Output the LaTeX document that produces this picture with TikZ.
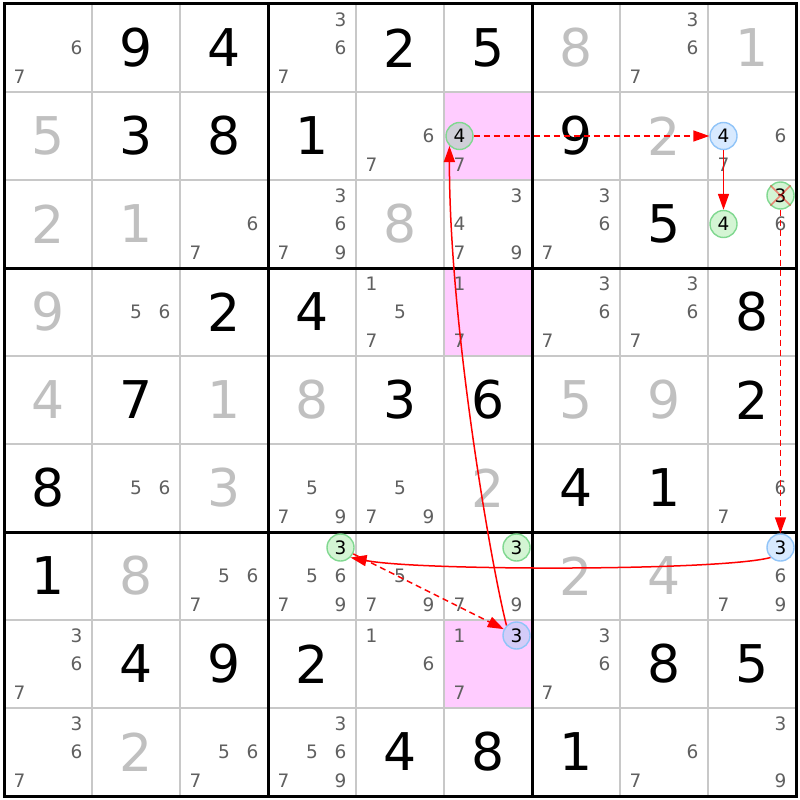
\documentclass[tikz,border=0pt]{standalone}
\usepackage{fontspec}
\setmainfont{DejaVu Sans}
\usetikzlibrary{arrows.meta}
\definecolor{solvedc}{HTML}{C0C0C0}
\definecolor{candc}{HTML}{606060}
\definecolor{thinc}{HTML}{C8C8C8}
\definecolor{pinkbg}{HTML}{FFCCFF}
\definecolor{gfill}{HTML}{D4F5D4}
\definecolor{gline}{HTML}{80D890}
\definecolor{bfill}{HTML}{D8EAFF}
\definecolor{bline}{HTML}{90C4F8}
\definecolor{gpfill}{HTML}{CFCFD8}
\definecolor{bpfill}{HTML}{D4CCF8}
\begin{document}
\begin{tikzpicture}[x=1pt,y=-1pt,
  given/.style={font=\fontsize{52}{52}\selectfont, text=black, inner sep=0pt},
  solvedd/.style={given, text=solvedc},
  cand/.style={font=\fontsize{18.5}{18.5}\selectfont, text=candc, inner sep=0pt},
  gcirc/.style={circle, draw=gline, fill=gfill, line width=1.4pt, minimum size=27pt, inner sep=0pt,
    font=\fontsize{18.5}{18.5}\selectfont, text=black},
  bcirc/.style={gcirc, draw=bline, fill=bfill},
  link/.style={draw=red, line width=1.5pt, -{Triangle[length=16pt,width=11pt]}},
  weak/.style={link, dash pattern=on 6pt off 4pt}]
\useasboundingbox (0,0) rectangle (800,800);
\fill[white] (0,0) rectangle (800,800);
% highlighted cells
\foreach \r in {2,4,8} \fill[pinkbg] (444,{88*\r-84}) rectangle (532,{88*\r+4});
% thin lines
\foreach \k in {1,2,4,5,7,8} {
  \draw[thinc, line width=1.4pt] ({4+88*\k},4) -- ({4+88*\k},796);
  \draw[thinc, line width=1.4pt] (4,{4+88*\k}) -- (796,{4+88*\k});
}
% thick lines
\foreach \k in {3,6} {
  \draw[black, line width=3pt] ({4+88*\k},4) -- ({4+88*\k},796);
  \draw[black, line width=3pt] (4,{4+88*\k}) -- (796,{4+88*\k});
}
\draw[black, line width=3pt] (4,4) rectangle (796,796);
% givens
\foreach \r/\c/\d in {1/2/9,1/3/4,1/5/2,1/6/5,2/2/3,2/3/8,2/4/1,2/7/9,3/8/5,
  4/3/2,4/4/4,4/9/8,5/2/7,5/5/3,5/6/6,5/9/2,6/1/8,6/7/4,6/8/1,7/1/1,
  8/2/4,8/3/9,8/4/2,8/8/8,8/9/5,9/5/4,9/6/8,9/7/1}
  \node[given] (v\r\c) at ({88*\c-40},{88*\r-40}) {\d};
% solved
\foreach \r/\c/\d in {1/7/8,1/9/1,2/1/5,2/8/2,3/1/2,3/2/1,3/5/8,4/1/9,
  5/1/4,5/3/1,5/4/8,5/7/5,5/8/9,6/3/3,6/6/2,7/2/8,7/7/2,7/8/4,9/2/2}
  \node[solvedd] (s\r\c) at ({88*\c-40},{88*\r-40}) {\d};
% candidates
\foreach \r/\c/\ds in {1/1/{6,7},1/4/{3,6,7},1/8/{3,6,7},2/5/{6,7},2/6/{7},2/9/{6,7},
  3/3/{6,7},3/4/{3,6,7,9},3/6/{3,4,7,9},3/7/{3,6,7},3/9/{6},
  4/2/{5,6},4/5/{1,5,7},4/6/{1,7},4/7/{3,6,7},4/8/{3,6,7},
  6/2/{5,6},6/4/{5,7,9},6/5/{5,7,9},6/9/{6,7},
  7/3/{5,6,7},7/4/{5,6,7,9},7/5/{5,7,9},7/6/{7,9},7/9/{6,7,9},
  8/1/{3,6,7},8/5/{1,6},8/6/{1,7},8/7/{3,6,7},
  9/1/{3,6,7},9/3/{5,6,7},9/4/{3,5,6,7,9},9/8/{6,7},9/9/{3,9}}{
  \foreach \d in \ds {
    \pgfmathsetmacro\cx{88*\c-40+(mod(\d-1,3)-1)*28.5}
    \pgfmathsetmacro\cy{88*\r-40+(floor((\d-1)/3)-1)*28.5}
    \node[cand] (k\r\c\d) at (\cx,\cy) {\d};
  }
}
% circled candidates
\node[gcirc, fill=gpfill] (ga) at (459.5,136) {4};
\node[bcirc] (ba) at (723.5,136) {4};
\node[gcirc] (gb) at (723.5,224) {4};
\node[gcirc] (xa) at (780.5,195.5) {3};
\node[bcirc] (bb) at (780.5,547.5) {3};
\node[gcirc] (gc) at (340.5,547.5) {3};
\node[gcirc] (gd) at (516.5,547.5) {3};
\node[bcirc, fill=bpfill] (bc) at (516.5,635.5) {3};
\draw[red, opacity=0.45, line width=1.6pt] (xa.north east) -- (xa.south west) (xa.north west) -- (xa.south east);
% links
\draw[weak] (ga) -- (ba);
\draw[link] (ba) -- (gb);
\draw[weak] (xa) -- (bb);
\draw[link] (bb.south west) .. controls (720,571) and (420,571) .. (gc.south east);
\draw[weak] (gc) -- (bc);
\draw[link] (bc.north west) .. controls (490,560) and (449,320) .. (ga.south west);
\end{tikzpicture}
\end{document}
